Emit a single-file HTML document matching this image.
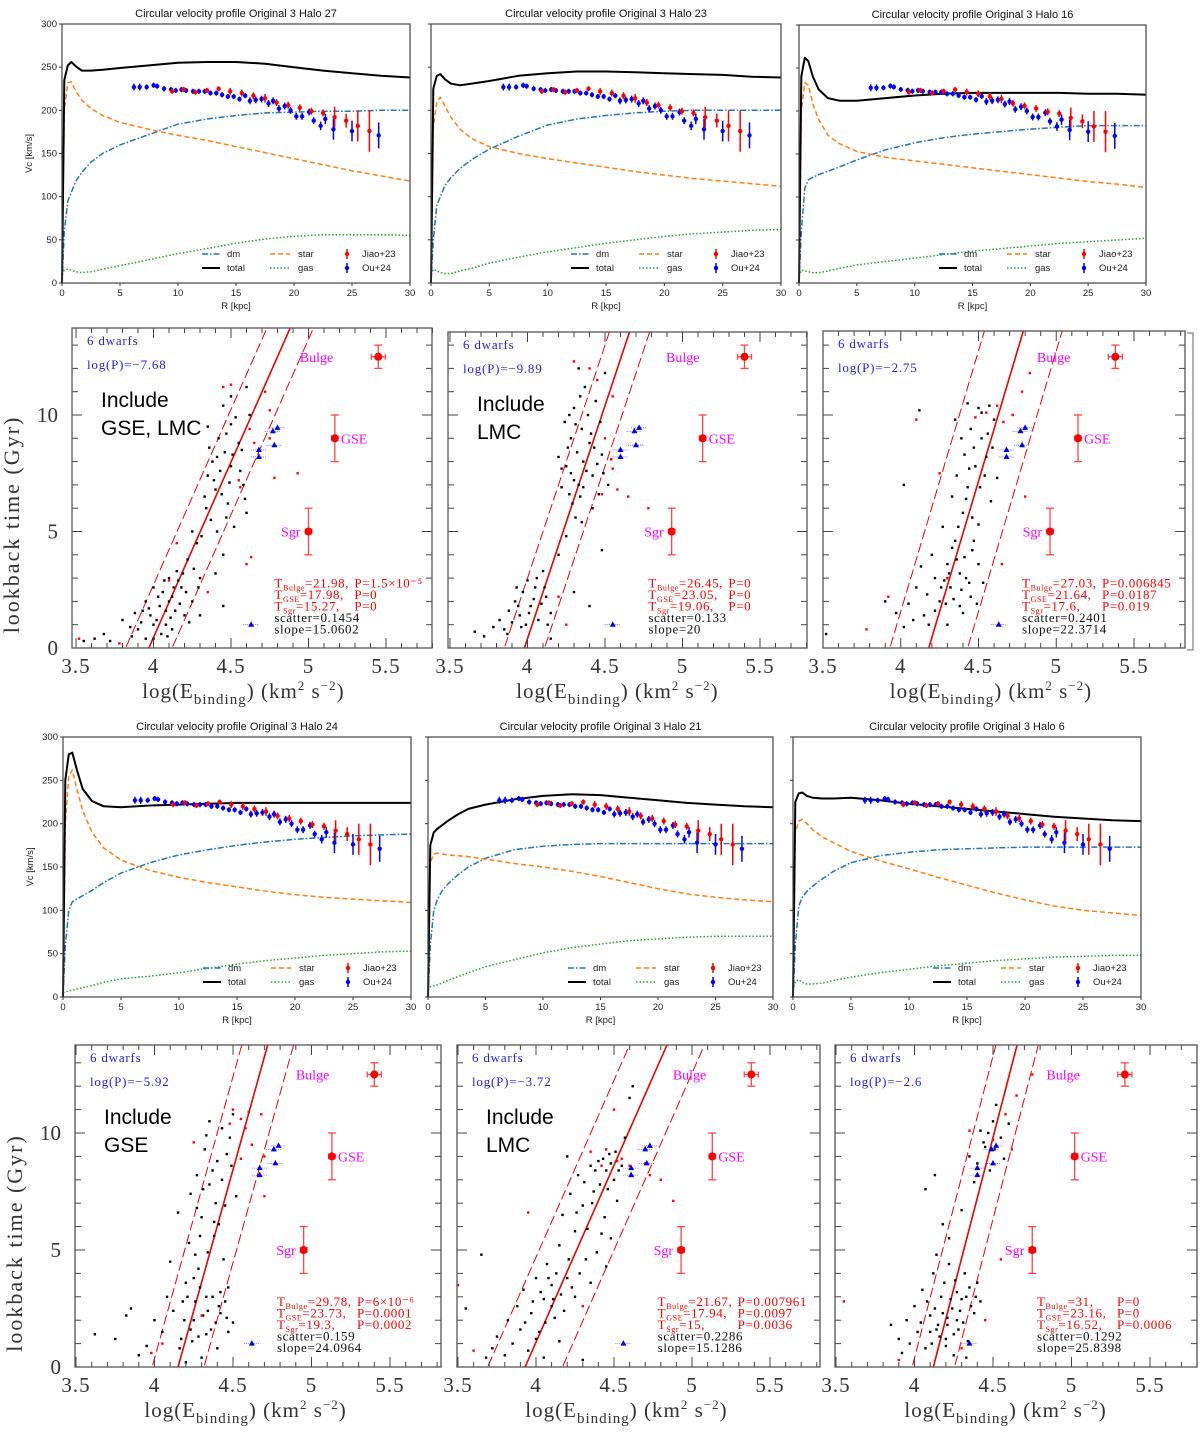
<!DOCTYPE html>
<html><head><meta charset="utf-8">
<style>
html,body{margin:0;padding:0;background:#fff;}
svg{display:block;}
</style></head>
<body>
<svg id="fig" width="1200" height="1433" viewBox="0 0 1200 1433" xmlns="http://www.w3.org/2000/svg"></svg>
<script>
// ===== Velocity profile data =====
const rGrid = [0,0.2,0.5,0.8,1.2,1.7,2.5,3.5,5,7.5,10,12.5,15,17.5,20,22.5,25,27.5,30];
const vTitles = ["Circular velocity profile Original 3 Halo 27","Circular velocity profile Original 3 Halo 23","Circular velocity profile Original 3 Halo 16","Circular velocity profile Original 3 Halo 24","Circular velocity profile Original 3 Halo 21","Circular velocity profile Original 3 Halo 6"];
const totalA = [0,235,252,256,251,246,246,247,249,252,255,256,256,254,250,246,243,240,238];
const dmA    = [0,60,95,105,118,128,140,150,160,172,184,190,194,197,198,199,199,200,200];
const starA  = [0,200,232,233,222,212,202,194,186,178,171,165,158,151,144,137,130,124,118];
const gasA   = [10,15,16,15,13,12,13,16,20,27,34,40,46,51,54,56,56,56,55];
const totalB = [0,225,240,242,236,231,229,231,234,240,243,245,245,244,243,242,241,239,238];
const dmB    = [0,50,90,100,113,122,133,143,155,170,183,190,194,197,199,200,200,200,200];
const starB  = [0,180,210,215,205,192,178,167,158,150,144,139,134,129,125,121,118,115,112];
const gasB   = [10,16,14,12,11,11,14,17,23,30,36,41,46,50,54,57,59,61,62];
const totalC = [0,240,262,258,240,225,215,212,212,215,218,220,221,221,221,221,220,220,219];
const dmC    = [0,60,110,120,123,126,130,135,143,155,163,169,173,176,179,181,183,183,183];
const starC  = [0,200,233,230,208,190,172,162,153,146,142,138,134,130,126,122,118,115,111];
const gasC   = [8,15,14,13,12,12,14,17,21,25,29,33,37,40,43,46,48,50,52];
const totalD = [0,250,280,282,262,240,226,220,219,221,222,223,224,224,224,224,224,224,224];
const dmD    = [0,60,100,110,113,117,123,132,143,155,164,170,175,179,182,184,186,187,188];
const starD  = [0,200,255,262,240,215,190,172,158,146,138,132,127,122,118,115,113,111,109];
const gasD   = [5,6,7,8,9,11,13,17,21,24,28,33,38,42,45,48,50,52,53];
const totalE = [0,175,190,194,198,203,210,217,222,228,232,234,233,230,227,224,222,220,219];
const dmE    = [0,60,100,112,122,130,140,150,160,170,174,176,177,177,177,177,177,177,177];
const starE  = [0,155,165,166,165,164,163,162,159,154,150,145,139,132,125,119,115,112,110];
const gasE   = [8,12,13,14,16,19,23,28,35,43,51,57,61,65,67,69,70,70,70];
const totalF = [0,225,235,236,232,230,229,229,230,227,223,220,217,214,211,208,206,204,203];
const dmF    = [0,60,105,115,122,128,136,145,155,163,167,170,171,172,173,173,173,173,173];
const starF  = [0,190,203,205,200,193,185,178,168,157,148,138,129,120,112,105,100,97,94];
const gasF   = [8,18,20,17,15,15,16,19,23,28,32,36,39,42,44,46,47,48,48];
// observations
const ouR   = [6.2,6.7,7.3,7.9,8.2,8.8,9.4,9.8,10.3,10.7,11.3,11.8,12.3,12.8,13.3,13.8,14.3,14.8,15.3,15.8,16.2,16.7,17.2,17.8,18.2,18.7,19.2,19.7,20.2,20.7,21.3,21.7,22.3,22.7,23.4,25.0,27.3];
const ouV   = [227,227,227,229,228,225,224,223,224,223,222,222,222,220,220,218,216,216,213,217,211,212,213,208,211,202,205,200,193,193,198,188,182,190,178,176,171];
const ouE   = [4,4,3,3,3,3,3,3,3,3,3,3,3,3,3,3,3,3,3,3,4,4,4,4,4,4,4,4,4,4,4,4,5,6,12,12,15];
const jiaoR = [9.5,10.5,11.5,12.5,13.5,14.5,15.5,16.5,17.5,18.5,19.5,20.5,21.5,22.5,23.5,24.5,25.5,26.5];
const jiaoV = [222,224,221,223,225,222,220,217,214,209,206,203,199,197,192,188,182,176];
const jiaoE = [3,3,3,3,3,4,4,4,5,4,4,4,4,4,12,8,18,24];

// ===== Scatter data (log E_binding, lookback Gyr) =====
const ptsBlack1 = "3.55,0.3 3.62,0.4 3.68,0.6 3.72,0.3 3.8,1.2 3.85,0.9 3.88,1.5 3.92,1.1 3.95,2.0 3.98,1.4 4.0,2.6 4.02,1.2 4.04,1.8 4.06,2.4 4.08,1.0 4.1,3.0 4.12,2.2 4.14,1.6 4.15,3.3 4.18,2.6 4.2,1.4 4.22,3.8 4.25,2.0 4.28,4.5 4.3,3.0 4.33,6.5 4.35,7.4 4.37,5.5 4.38,8.0 4.4,6.8 4.42,9.0 4.43,7.6 4.45,10.4 4.46,8.4 4.48,6.2 4.5,9.6 4.5,7.8 4.52,5.2 4.55,8.8 4.58,7.0 4.6,11.2 4.62,10.0 4.45,4.0 4.4,3.2 4.05,0.6 3.95,0.4 4.12,0.8 4.3,1.4 4.45,1.8 4.6,5.8 4.25,5.0 4.35,9.5 4.5,10.8 4.08,1.6 4.1,2.0 4.0,1.0 4.16,2.9 3.9,0.8 3.97,1.7 4.03,2.2 4.07,2.9 4.11,1.3 4.13,2.6 4.17,1.9 4.19,3.2 4.21,2.4 4.23,1.1 4.26,3.4 4.29,2.6 4.31,4.8 4.34,6.0 4.36,8.6 4.39,7.2 4.41,8.2 4.44,6.6 4.47,9.2 4.49,7.1 4.51,8.3 4.53,9.9 4.56,7.6 4.57,8.5 4.59,6.4 4.41,5.0 4.47,5.6 3.86,0.5 3.93,1.6 4.0,0.4 4.09,0.5";
const ptsRed1   = "3.52,0.4 3.78,0.2 4.1,2.9 4.15,4.5 4.35,2.4 4.5,11.3 4.55,7.2 4.65,8.8 4.72,11.0 4.75,10.2 4.78,7.3 4.63,3.9 4.93,7.5 4.75,9.0 4.6,3.6 4.45,11.2 4.62,9.4 4.56,6.9";
const ptsBlack2 = "3.66,0.7 3.72,0.5 3.78,0.9 3.82,1.2 3.85,0.8 3.88,1.6 3.9,1.1 3.92,2.0 3.95,1.4 3.97,2.4 3.99,1.0 4.0,2.9 4.02,1.8 4.05,2.6 4.07,1.2 4.1,3.3 4.12,2.2 4.15,1.5 4.2,4.0 4.22,6.9 4.25,7.8 4.27,10.0 4.28,9.0 4.3,7.2 4.3,10.3 4.32,8.4 4.34,6.5 4.35,9.4 4.37,11.2 4.38,7.6 4.4,8.8 4.42,6.0 4.44,10.6 4.45,7.9 4.47,9.7 4.48,8.3 4.5,11.8 4.52,7.0 4.35,5.4 4.25,4.8 4.15,0.4 4.3,2.4 4.4,1.8 4.48,4.2 4.33,12.0 4.2,8.2 4.28,7.5 4.36,8.0 4.41,9.2 3.94,1.8 3.87,0.6 3.93,2.6 3.96,0.9 4.01,1.5 4.04,2.1 4.06,3.0 4.09,1.9 4.11,2.6 4.13,1.0 4.24,9.7 4.26,8.6 4.29,6.2 4.31,9.6 4.33,7.0 4.36,6.9 4.39,10.0 4.42,7.4 4.43,8.6 4.46,6.6 4.49,7.5 4.34,10.8 4.22,7.7 4.31,5.6 4.27,6.6";
const ptsRed2   = "4.3,12.3 4.4,12.0 4.45,11.5 4.55,10.8 4.5,9.0 4.55,7.7 4.58,6.8 4.65,6.5 4.78,6.0 4.6,8.5 4.2,2.2 4.25,1.0 4.48,6.6 4.54,8.1";
const ptsBlack3 = "3.52,0.6 3.9,2.0 3.97,1.5 4.02,0.9 4.05,1.9 4.08,1.2 4.1,2.6 4.13,3.5 4.15,1.4 4.17,2.3 4.2,4.0 4.22,3.0 4.25,2.0 4.27,5.2 4.3,3.6 4.32,2.6 4.33,6.5 4.35,4.6 4.36,7.4 4.38,3.2 4.4,5.8 4.41,8.3 4.43,6.9 4.45,9.4 4.46,4.2 4.48,7.8 4.5,10.3 4.5,5.3 4.52,9.0 4.53,2.8 4.55,8.2 4.57,10.4 4.58,6.3 4.6,9.8 4.62,7.3 4.3,1.0 4.4,1.5 4.45,2.2 4.5,3.6 4.12,10.2 4.02,7.0 4.35,9.8 4.43,10.5 4.38,1.8 4.28,2.9 4.42,3.0 4.22,1.6 4.26,2.6 4.29,1.9 4.31,3.2 4.34,2.1 4.36,3.8 4.39,2.5 4.41,3.9 4.44,2.8 4.47,4.6 4.49,1.9 4.37,5.2 4.42,6.4 4.46,5.6 4.51,6.9 4.54,7.4 4.56,9.2 4.59,8.6 4.47,8.6 4.39,9.0 4.44,7.7 4.52,10.1 4.33,4.3 4.18,1.0";
const ptsRed3   = "3.78,0.8 3.92,2.2 4.1,9.8 4.62,10.4 4.66,9.7 4.72,10.0 4.78,11.0 4.83,11.8 4.8,6.5 4.65,3.6 4.3,3.0 4.25,7.5 4.55,10.1 4.48,9.9";
const ptsBlack4 = "3.62,1.4 3.75,1.2 3.82,2.2 3.85,2.5 3.9,0.5 3.95,0.9 4.0,2.0 4.05,1.5 4.08,3.0 4.1,4.5 4.12,2.4 4.15,6.6 4.17,1.2 4.2,3.6 4.22,5.3 4.23,7.4 4.25,2.0 4.27,8.2 4.28,4.2 4.3,6.4 4.32,9.3 4.33,3.0 4.35,7.8 4.36,1.6 4.38,5.6 4.4,8.8 4.41,2.6 4.43,10.2 4.44,4.6 4.45,6.9 4.47,3.4 4.48,9.8 4.5,1.9 4.5,10.8 4.52,7.3 4.3,0.4 4.4,0.8 4.2,0.2 4.42,3.2 4.35,10.5 4.26,4.8 4.18,2.8 4.46,2.1 4.38,6.2 4.34,2.4 4.24,1.1 4.19,2.0 4.21,3.0 4.23,1.6 4.26,2.8 4.28,1.3 4.29,3.4 4.31,2.2 4.33,1.4 4.37,3.0 4.39,1.9 4.42,2.3 4.45,2.8 4.47,1.5 4.29,5.6 4.31,7.6 4.34,4.9 4.37,8.4 4.39,7.0 4.41,6.1 4.43,8.0 4.46,9.1 4.49,8.6 4.27,6.8 4.33,9.9 4.25,3.8 4.16,0.8";
const ptsRed4   = "3.98,0.6 4.05,1.0 4.3,2.2 4.5,11.0 4.55,10.6 4.6,10.9 4.62,9.5 4.55,8.9 4.68,10.8 4.7,9.0 4.7,7.3 4.25,9.6 4.48,10.4 4.58,10.2";
const ptsBlack5 = "3.55,2.5 3.65,4.8 3.68,0.4 3.72,0.8 3.75,1.3 3.8,0.5 3.82,2.0 3.85,1.0 3.88,2.6 3.9,1.6 3.92,3.3 3.95,0.7 3.97,2.3 4.0,3.8 4.02,1.5 4.05,2.9 4.07,4.4 4.1,3.5 4.12,2.1 4.15,5.2 4.17,6.5 4.2,3.8 4.22,7.4 4.25,5.8 4.27,8.2 4.3,6.9 4.32,4.6 4.35,8.6 4.37,7.5 4.4,8.8 4.42,5.7 4.45,8.4 4.47,9.1 4.5,8.0 4.52,7.1 4.55,8.6 4.57,9.8 4.6,11.5 4.62,12.0 4.25,3.0 4.35,3.6 4.05,0.4 4.15,1.1 4.2,9.0 4.45,4.3 4.3,0.3 4.1,2.6 4.0,1.2 3.93,1.9 3.98,2.8 4.03,3.2 4.06,1.9 4.08,3.8 4.11,2.9 4.13,4.0 4.16,3.1 4.18,2.4 4.21,4.6 4.23,3.4 4.26,6.6 4.28,4.0 4.31,7.9 4.33,5.9 4.36,7.0 4.38,8.4 4.41,7.8 4.43,8.9 4.46,7.6 4.48,8.7 4.51,9.2 4.53,8.4 4.39,4.9 4.44,6.4 4.48,5.5";
const ptsRed5   = "3.5,3.5 3.6,0.7 3.95,6.6 4.35,9.2 4.45,9.3 4.55,8.9 4.6,8.6 4.7,8.7 4.73,8.2 4.8,8.0 4.5,11.0 4.88,7.1 4.3,2.6 4.42,8.6 4.52,8.8";
const ptsBlack6 = "3.85,1.8 3.9,1.2 3.92,0.6 3.95,2.0 3.97,1.0 4.0,2.6 4.02,1.5 4.05,3.3 4.07,0.8 4.1,2.2 4.12,4.0 4.15,1.8 4.17,3.0 4.2,1.2 4.22,4.4 4.24,2.5 4.26,3.7 4.28,1.6 4.3,2.9 4.32,4.0 4.34,1.1 4.35,3.4 4.38,2.3 4.4,3.6 4.42,2.8 4.13,8.2 4.07,7.6 4.18,6.1 4.22,5.5 4.3,6.7 4.35,9.0 4.38,7.9 4.42,10.1 4.45,9.4 4.48,8.4 4.5,10.5 4.52,11.2 4.55,9.8 4.57,8.9 4.6,10.4 4.14,4.8 4.25,0.5 4.2,0.9 4.33,0.4 4.1,1.5 4.27,2.0 4.04,1.9 4.08,2.8 4.11,1.0 4.13,2.5 4.16,1.3 4.18,2.3 4.19,3.6 4.21,1.8 4.23,2.9 4.25,1.4 4.27,3.2 4.29,2.4 4.31,1.9 4.33,3.0 4.36,2.6 4.39,3.0 4.21,2.1 4.14,1.6 4.44,9.6 4.47,10.0 4.4,8.7 4.51,9.3";
const ptsRed6   = "3.55,2.8 3.9,0.3 4.35,10.1 4.58,10.8 4.65,11.6 4.75,12.5 4.62,9.3 4.55,4.6 4.45,2.0 4.3,0.8 4.5,9.7";
// fit lines: x-intercept, slope, band offset
const fitX0    = [3.97,3.98,4.18,4.15,3.93,4.12];
const fitSlope = [15.06,20,22.37,24.1,15.13,25.8];
const fitOff   = [0.15,0.13,0.25,0.165,0.24,0.135];
// Bulge / GSE / Sgr
const bulgeX = [5.45,5.40,5.38,5.40,5.38,5.34];
const gseX   = [5.17,5.13,5.14,5.13,5.13,5.02];
const sgrX   = [5.00,4.93,4.96,4.95,4.93,4.75];
const bulgeY = 12.5, gseY = 9, sgrY = 5;
// dwarfs
const dwarfX = [4.80,4.77,4.78,4.68,4.68,4.63];
const dwarfY = [9.45,9.3,8.7,8.5,8.2,1.0];
const dwarfShift = [0,-0.08,0,-0.01,-0.07,-0.28];
const logPs = ["−7.68","−9.89","−2.75","−5.92","−3.72","−2.6"];
const includeTxt = [["Include","GSE, LMC"],["Include","LMC"],null,["Include","GSE"],["Include","LMC"],null];
const tBulge = ["21.98","26.45","27.03","29.78","21.67","31"];
const pBulge = ["1.5×10⁻⁵","0","0.006845","6×10⁻⁶","0.007961","0"];
const tGse = ["17.98","23.05","21.64","23.73","17.94","23.16"];
const pGse = ["0","0","0.0187","0.0001","0.0097","0"];
const tSgr = ["15.27","19.06","17.6","19.3","15","16.52"];
const pSgr = ["0","0","0.019","0.0002","0.0036","0.0006"];
const scatV = ["0.1454","0.133","0.2401","0.159","0.2286","0.1292"];
const slopeV = ["15.0602","20","22.3714","24.0964","15.1286","25.8398"];

const NS = "http://www.w3.org/2000/svg";
const svg = document.getElementById('fig');
function mk(tag, attrs, parent, text){
  const e = document.createElementNS(NS, tag);
  for (const k in attrs) e.setAttribute(k, attrs[k]);
  if (text !== undefined) e.textContent = text;
  (parent||svg).appendChild(e);
  return e;
}
function parsePts(s){ return s.trim().split(/\s+/).map(p=>p.split(',').map(Number)); }

// ===== velocity panels =====
const vFrames = [
  {l:62,r:410,t:24,b:283,ylab:true},{l:431,r:781,t:24,b:283},{l:799,r:1146,t:25,b:283},
  {l:63,r:411,t:737,b:997,ylab:true},{l:428,r:773,t:737,b:997},{l:793,r:1141,t:737,b:997}];
const vSeries = [[totalA,dmA,starA,gasA],[totalB,dmB,starB,gasB],[totalC,dmC,starC,gasC],[totalD,dmD,starD,gasD],[totalE,dmE,starE,gasE],[totalF,dmF,starF,gasF]];
const styles = [
  {c:'#000',w:2,d:''},{c:'#1f77b4',w:1.5,d:'6,2,1.5,2'},{c:'#ff7f0e',w:1.5,d:'5,3'},{c:'#2ca02c',w:1.5,d:'1.5,2'}];
const sNames = ['total-curve','dm-curve','star-curve','gas-curve'];
vFrames.forEach((f,i)=>{
  const g = mk('g',{});
  
  
  const X = r => f.l + (r/30)*(f.r-f.l);
  const Y = v => f.b - (v/300)*(f.b-f.t);
  const tt = mk('text',{x:(f.l+f.r)/2,y:f.t-7,'text-anchor':'middle','font-family':'Liberation Sans, sans-serif','font-size':11,fill:'#111'},g,vTitles[i]);
   
  for(let r=0;r<=30;r+=5){
    mk('line',{x1:X(r),x2:X(r),y1:f.b,y2:f.b+3,stroke:'#333','stroke-width':1},g);
    const tl = mk('text',{x:X(r),y:f.b+13,'text-anchor':'middle','font-family':'Liberation Sans, sans-serif','font-size':9.5,fill:'#222'},g,String(r));
     
  }
  for(let v=0;v<=300;v+=50){
    mk('line',{x1:f.l-3,x2:f.l,y1:Y(v),y2:Y(v),stroke:'#333','stroke-width':1},g);
    if(f.ylab){
      const yl = mk('text',{x:f.l-5,y:Y(v)+3,'text-anchor':'end','font-family':'Liberation Sans, sans-serif','font-size':9.5,fill:'#222'},g,String(v));
       
    }
  }
  const xt = mk('text',{x:(f.l+f.r)/2,y:f.b+26,'text-anchor':'middle','font-family':'Liberation Sans, sans-serif','font-size':9.5,fill:'#222'},g,'R [kpc]');
   
  if(f.ylab){
    const yt = mk('text',{x:0,y:0,'text-anchor':'middle','font-family':'Liberation Sans, sans-serif','font-size':9.5,fill:'#222',transform:`translate(${f.l-30},${(f.t+f.b)/2}) rotate(-90)`},g,'Vc [km/s]');
     
  }
  [3,1,2,0].forEach(k=>{
    const arr = vSeries[i][k];
    const d = arr.map((v,j)=>(j?'L':'M')+X(rGrid[j]).toFixed(1)+','+Y(v).toFixed(1)).join(' ');
    const p = mk('path',{d:d,fill:'none',stroke:styles[k].c,'stroke-width':styles[k].w,'stroke-dasharray':styles[k].d,'stroke-linejoin':'round'},g);
     
  });
  ouR.forEach((r,j)=>{
    mk('line',{x1:X(r),x2:X(r),y1:Y(ouV[j]-ouE[j]),y2:Y(ouV[j]+ouE[j]),stroke:'#0000ff','stroke-width':1.5},g);
    const c = mk('circle',{cx:X(r),cy:Y(ouV[j]),r:2.2,fill:'#0000ff'},g);
     
  });
  jiaoR.forEach((r,j)=>{
    mk('line',{x1:X(r),x2:X(r),y1:Y(jiaoV[j]-jiaoE[j]),y2:Y(jiaoV[j]+jiaoE[j]),stroke:'#ff0000','stroke-width':1.5},g);
    const c = mk('circle',{cx:X(r),cy:Y(jiaoV[j]),r:2.2,fill:'#ff0000'},g);
     
  });
  const lg = mk('g',{},g);
   
  const y1 = f.b-29, y2 = f.b-15, L=f.l;
  const ft = {'font-family':'Liberation Sans, sans-serif','font-size':9.5,fill:'#222'};
  mk('line',{x1:L+140,x2:L+158,y1:y1,y2:y1,stroke:styles[1].c,'stroke-width':1.5,'stroke-dasharray':styles[1].d},lg);
  mk('text',Object.assign({x:L+165,y:y1+3},ft),lg,'dm');
  mk('line',{x1:L+140,x2:L+158,y1:y2,y2:y2,stroke:'#000','stroke-width':2},lg);
  mk('text',Object.assign({x:L+165,y:y2+3},ft),lg,'total');
  mk('line',{x1:L+208,x2:L+228,y1:y1,y2:y1,stroke:styles[2].c,'stroke-width':1.5,'stroke-dasharray':styles[2].d},lg);
  mk('text',Object.assign({x:L+236,y:y1+3},ft),lg,'star');
  mk('line',{x1:L+208,x2:L+228,y1:y2,y2:y2,stroke:styles[3].c,'stroke-width':1.5,'stroke-dasharray':styles[3].d},lg);
  mk('text',Object.assign({x:L+236,y:y2+3},ft),lg,'gas');
  mk('line',{x1:L+285,x2:L+285,y1:y1-5,y2:y1+5,stroke:'#f00','stroke-width':1.5},lg);
  mk('circle',{cx:L+285,cy:y1,r:2.2,fill:'#f00'},lg);
  mk('text',Object.assign({x:L+300,y:y1+3},ft),lg,'Jiao+23');
  mk('line',{x1:L+285,x2:L+285,y1:y2-5,y2:y2+5,stroke:'#00f','stroke-width':1.5},lg);
  mk('circle',{cx:L+285,cy:y2,r:2.2,fill:'#00f'},lg);
  mk('text',Object.assign({x:L+300,y:y2+3},ft),lg,'Ou+24');
  mk('rect',{x:f.l,y:f.t,width:f.r-f.l,height:f.b-f.t,fill:'none',stroke:'#444','stroke-width':1.2},g);
});

// ===== scatter panels =====
const sFrames = [
  {l:72,r:432,t:328,b:648,ax:76,ux:155,ay:648,uy:23.3,ylab:true},
  {l:448,r:807,t:332,b:648,ax:450,ux:155,ay:648,uy:23.3},
  {l:823,r:1185,t:331,b:648,ax:823,ux:155.5,ay:648,uy:23.3},
  {l:75,r:441,t:1045,b:1367,ax:76,ux:157,ay:1367,uy:23.4,ylab:true},
  {l:457,r:820,t:1045,b:1367,ax:458,ux:156,ay:1367,uy:23.4},
  {l:835,r:1197,t:1045,b:1367,ax:836,ux:157,ay:1367,uy:23.4}];
const blackSets = [ptsBlack1,ptsBlack2,ptsBlack3,ptsBlack4,ptsBlack5,ptsBlack6].map(parsePts);
const redSets = [ptsRed1,ptsRed2,ptsRed3,ptsRed4,ptsRed5,ptsRed6].map(parsePts);
const serif = 'Liberation Serif, serif';
sFrames.forEach((f,i)=>{
  const g = mk('g',{});
  
  
  const X = e => f.ax + (e-3.5)*f.ux;
  const Y = t => f.ay - t*f.uy;
  const clipId = 'clip'+i;
  const cp = mk('clipPath',{id:clipId},g);
  mk('rect',{x:f.l,y:f.t,width:f.r-f.l,height:f.b-f.t},cp);
  const inner = mk('g',{'clip-path':`url(#${clipId})`},g);
  const tk = mk('g',{stroke:'#444','stroke-width':1},g);
  for(let e=3.5;e<=5.81;e+=0.1){
    const major = Math.abs(e*2-Math.round(e*2))<0.01;
    const len = major?10:5;
    mk('line',{x1:X(e),x2:X(e),y1:f.b,y2:f.b-len},tk);
    mk('line',{x1:X(e),x2:X(e),y1:f.t,y2:f.t+len},tk);
  }
  for(let t=0;t<=13;t++){
    const len = (t%5===0)?10:6;
    mk('line',{x1:f.l,x2:f.l+len,y1:Y(t),y2:Y(t)},tk);
    mk('line',{x1:f.r,x2:f.r-len,y1:Y(t),y2:Y(t)},tk);
  }
  ['3.5','4','4.5','5','5.5'].forEach(s=>{
    const tl = mk('text',{x:X(+s),y:f.b+25,'text-anchor':'middle','font-family':serif,'font-size':21,fill:'#333','letter-spacing':'1'},g,s);
     
  });
  if(f.ylab){
    [0,5,10].forEach(v=>{
      const yl = mk('text',{x:f.l-14,y:Y(v)+7,'text-anchor':'end','font-family':serif,'font-size':21,fill:'#333'},g,String(v));
       
    });
    const yt = mk('text',{x:0,y:0,'text-anchor':'middle','font-family':serif,'font-size':22,fill:'#333','letter-spacing':'2',transform:`translate(${f.l-53},${Y(5.3)}) rotate(-90)`},g,'lookback time (Gyr)');
     
  }
  const xt = mk('text',{x:X(4.58),y:f.b+50,'text-anchor':'middle','font-family':serif,'font-size':21,fill:'#333','letter-spacing':'1'},g);
   
  mk('tspan',{},xt,'log(E');
  mk('tspan',{'font-size':15,dy:6},xt,'binding');
  mk('tspan',{dy:-6},xt,')  (km');
  mk('tspan',{'font-size':13,dy:-8},xt,'2');
  mk('tspan',{dy:8},xt,'  s');
  mk('tspan',{'font-size':13,dy:-8},xt,'−2');
  mk('tspan',{dy:8},xt,')');
  const y0=-0.5, y1=14.5;
  const xe = (t,o)=>fitX0[i]+o+t/fitSlope[i];
  const fl = mk('line',{x1:X(xe(y0,0)),y1:Y(y0),x2:X(xe(y1,0)),y2:Y(y1),stroke:'#e00','stroke-width':1.6},inner);
   
  [-1,1].forEach(s=>{
    const bl = mk('line',{x1:X(xe(y0,s*fitOff[i])),y1:Y(y0),x2:X(xe(y1,s*fitOff[i])),y2:Y(y1),stroke:'#e00','stroke-width':1,'stroke-dasharray':'10,4'},inner);
     
  });
  blackSets[i].forEach(p=>{
    const r = mk('rect',{x:X(p[0])-1.2,y:Y(p[1])-1.2,width:2.4,height:2.4,fill:'#000'},inner);
     
  });
  redSets[i].forEach(p=>{
    const r = mk('rect',{x:X(p[0])-1.2,y:Y(p[1])-1.2,width:2.4,height:2.4,fill:'#f00'},inner);
     
  });
  dwarfX.forEach((dx,j)=>{
    const cx = X(dx+dwarfShift[i]), cy = Y(dwarfY[j]);
    mk('line',{x1:cx-8,x2:cx+8,y1:cy,y2:cy,stroke:'#66f','stroke-width':0.8,'stroke-dasharray':'1,1'},inner);
    const tr = mk('polygon',{points:`${cx},${cy-3.5} ${cx-3},${cy+2} ${cx+3},${cy+2}`,fill:'#0000ee'},inner);
     
  });
  [[bulgeX[i],bulgeY,0.5,0.045,'Bulge',-1],[gseX[i],gseY,1,0.02,'GSE',1],[sgrX[i],sgrY,1,0.02,'Sgr',-1]].forEach(o=>{
    const cx=X(o[0]), cy=Y(o[1]);
    const eg = mk('g',{stroke:'#f44','stroke-width':1.3},g);
    mk('line',{x1:cx,x2:cx,y1:Y(o[1]-o[2]),y2:Y(o[1]+o[2])},eg);
    mk('line',{x1:cx-4,x2:cx+4,y1:Y(o[1]-o[2]),y2:Y(o[1]-o[2])},eg);
    mk('line',{x1:cx-4,x2:cx+4,y1:Y(o[1]+o[2]),y2:Y(o[1]+o[2])},eg);
    mk('line',{x1:X(o[0]-o[3]),x2:X(o[0]+o[3]),y1:cy,y2:cy},eg);
    mk('line',{x1:X(o[0]-o[3]),x2:X(o[0]-o[3]),y1:cy-3,y2:cy+3},eg);
    mk('line',{x1:X(o[0]+o[3]),x2:X(o[0]+o[3]),y1:cy-3,y2:cy+3},eg);
    const c = mk('circle',{cx:cx,cy:cy,r:4,fill:'#f00'},g);
     
    const tx = o[5]<0 ? cx-(o[4]==='Bulge'?45:8) : cx+6;
    const lb = mk('text',{x:tx,y:cy+5,'text-anchor':o[5]<0?'end':'start','font-family':serif,'font-size':14,fill:'#ff00ff'},g,o[4]);
     
  });
  const an = {'font-family':serif,'font-size':13,fill:'#2222ee','letter-spacing':'0.8'};
  const d1 = mk('text',Object.assign({x:f.l+15,y:f.t+17},an),g,'6  dwarfs');
   
  const d2 = mk('text',Object.assign({x:f.l+15,y:f.t+41},an),g,'log(P)=−'+logPs[i].slice(1));
   
  if(includeTxt[i]){
    const it = mk('text',{x:f.l+29,y:f.t+79,'font-family':'Liberation Sans, sans-serif','font-size':21,fill:'#000'},g);
     
    mk('tspan',{x:f.l+29},it,includeTxt[i][0]);
    mk('tspan',{x:f.l+29,dy:28},it,includeTxt[i][1]);
  }
  const sx = X(4.78), sy = Y(2.6);
  const st = {'font-family':serif,'font-size':13,'letter-spacing':'0.6'};
  const rows = [['Bulge',tBulge[i],pBulge[i]],['GSE',tGse[i],pGse[i]],['Sgr',tSgr[i],pSgr[i]]];
  rows.forEach((rw,k)=>{
    const t = mk('text',Object.assign({x:sx,y:sy+k*11.5,fill:'#f00'},st),g);
     
    mk('tspan',{},t,'T');
    mk('tspan',{'font-size':8,dy:3},t,rw[0]);
    mk('tspan',{dy:-3},t,'='+rw[1]+',');
    mk('tspan',{x:sx+80},t,'P='+rw[2]);
  });
  const s1 = mk('text',Object.assign({x:sx,y:sy+34.5,fill:'#111'},st),g,'scatter='+scatV[i]);
   
  const s2 = mk('text',Object.assign({x:sx,y:sy+46,fill:'#111'},st),g,'slope='+slopeV[i]);
   
  mk('rect',{x:f.l,y:f.t,width:f.r-f.l,height:f.b-f.t,fill:'none',stroke:'#555','stroke-width':1.3},g);
});
const br = mk('path',{d:'M1187,333 L1193,333 L1193,650 L1187,650',fill:'none',stroke:'#666','stroke-width':1});


</script>
</body></html>
